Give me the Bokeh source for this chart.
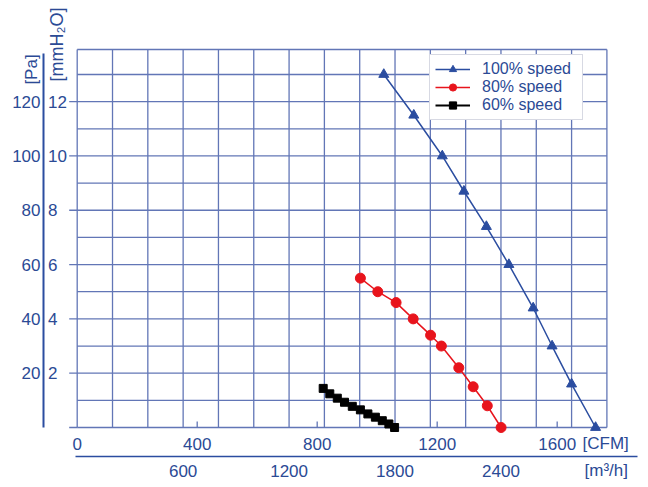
import numpy as np
from bokeh.plotting import figure
from bokeh.models import Range1d, Legend, LegendItem
from bokeh.core.properties import value
from bokeh.embed import file_html
from bokeh.resources import INLINE

# ---------------- data ----------------
M3H_PER_CFM = 1.69901

flow_100 = [1022, 1122, 1217, 1289, 1364, 1439, 1520, 1583, 1648, 1728]
pres_100 = [130, 115, 100, 87, 74, 60, 44, 30, 16, 0]

flow_80 = [944, 1002, 1063, 1120, 1178, 1214, 1272, 1320, 1367, 1413]
pres_80 = [55, 50, 46, 40, 34, 30, 22, 15, 8, 0]

flow_60 = [820, 842, 867, 891, 917, 944, 969, 994, 1017, 1039, 1058]
pres_60 = [14.4, 12.4, 10.8, 9.3, 7.8, 6.5, 5.0, 3.8, 2.5, 1.3, 0]

series_labels = ["100% speed", "80% speed", "60% speed"]

cfm_ticks = [0, 400, 800, 1200, 1600]
m3h_ticks = [600, 1200, 1800, 2400]
pa_ticks = [20, 40, 60, 80, 100, 120]
mmh2o_ticks = [2, 4, 6, 8, 10, 12]
grid_m3h = list(range(0, 3001, 200))
grid_pa = list(range(0, 140, 10))
x_max_m3h = 3000
y_max_pa = 139.2

# ---------------- layout / styles ----------------
W, H = 640, 479
FRAME_L, FRAME_R = 76.7, 606.4      # px of 0 and x_max
FRAME_T, FRAME_B = 49.0, 427.0      # px of y_max and 0

TXT = "#2b4a95"
GRID = "#6276b6"
BLUE = "#2b4da0"
RED = "#e8141c"
BLACK = "#000000"
FONT = "Liberation Sans"
FS = "17px"

x_end = x_max_m3h / M3H_PER_CFM
kx = (FRAME_R - FRAME_L) / x_end          # px per CFM
ky = (FRAME_B - FRAME_T) / y_max_pa       # px per Pa

def X(px):  # canvas px -> CFM
    return (px - FRAME_L) / kx

def Y(py):  # canvas px -> Pa
    return (FRAME_B - py) / ky

p = figure(width=W, height=H,
           x_range=Range1d(X(0), X(W)), y_range=Range1d(Y(H), Y(0)),
           output_backend="svg", toolbar_location=None,
           x_axis_location=None, y_axis_location=None,
           min_border_left=0, min_border_right=0,
           min_border_top=0, min_border_bottom=0)
p.grid.visible = False
p.outline_line_color = None
p.background_fill_color = "white"
p.border_fill_color = "white"

# ---- grid (including frame border) ----
vx = [g / M3H_PER_CFM for g in grid_m3h]
p.segment(x0=vx, y0=[0] * len(vx), x1=vx, y1=[y_max_pa] * len(vx),
          line_color=GRID, line_width=1.3)
hy = grid_pa + [y_max_pa]
p.segment(x0=[0] * len(hy), y0=hy, x1=[x_end] * len(hy), y1=hy,
          line_color=GRID, line_width=1.3)

# ---- left axes ----
mm_pos = [0] + [m * 10 for m in mmh2o_ticks]
p.segment(x0=[X(FRAME_L - 8)] * len(mm_pos), y0=mm_pos, x1=[0] * len(mm_pos), y1=mm_pos,
          line_color=GRID, line_width=1.3)
p.segment(x0=[X(43)], y0=[0], x1=[X(43)], y1=[Y(53)], line_color=BLUE, line_width=2)

p.text(x=[X(40)] * len(pa_ticks), y=pa_ticks, text=[str(v) for v in pa_ticks],
       text_font=value(FONT), text_font_size=value(FS), text_color=TXT,
       text_align="right", text_baseline="middle")
p.text(x=[X(47.5)] * len(mmh2o_ticks), y=[m * 10 for m in mmh2o_ticks],
       text=[str(m) for m in mmh2o_ticks],
       text_font=value(FONT), text_font_size=value(FS), text_color=TXT,
       text_align="left", text_baseline="middle")

# ---- bottom axes ----
tick_x = cfm_ticks[1:]
p.segment(x0=tick_x, y0=[0] * len(tick_x), x1=tick_x, y1=[Y(FRAME_B - 6)] * len(tick_x),
          line_color=GRID, line_width=1.3)
p.text(x=cfm_ticks, y=[Y(443)] * len(cfm_ticks), text=[str(v) for v in cfm_ticks],
       text_font=value(FONT), text_font_size=value(FS), text_color=TXT,
       text_align="center", text_baseline="middle")
p.segment(x0=[X(75)], y0=[Y(456)], x1=[X(637)], y1=[Y(456)], line_color=BLUE, line_width=1.5)
p.text(x=[t / M3H_PER_CFM for t in m3h_ticks], y=[Y(470)] * len(m3h_ticks),
       text=[str(t) for t in m3h_ticks],
       text_font=value(FONT), text_font_size=value(FS), text_color=TXT,
       text_align="center", text_baseline="middle")

# ---- unit labels ----
p.text(x=[X(582), X(584)], y=[Y(443), Y(470)], text=["[CFM]", "[m³/h]"],
       text_font=value(FONT), text_font_size=value(FS), text_color=TXT,
       text_align="left", text_baseline="middle")
p.text(x=[X(31)], y=[Y(69)], text=["[Pa]"], angle=np.pi / 2,
       text_font=value(FONT), text_font_size=value(FS), text_color=TXT,
       text_align="center", text_baseline="middle")
p.text(x=[X(56)], y=[Y(44)], text=["[mmH₂O]"], angle=np.pi / 2,
       text_font=value(FONT), text_font_size=value("18px"), text_color=TXT,
       text_align="center", text_baseline="middle")

# ---- series ----
l1 = p.line(flow_100, pres_100, line_color=BLUE, line_width=1.5)
m1 = p.scatter(flow_100, pres_100, marker="triangle", size=10, fill_color=BLUE, line_color=BLUE)
l2 = p.line(flow_80, pres_80, line_color=RED, line_width=1.5)
m2 = p.scatter(flow_80, pres_80, marker="circle", size=10, fill_color=RED, line_color=RED)
l3 = p.line(flow_60, pres_60, line_color=BLACK, line_width=2)
m3 = p.scatter(flow_60, pres_60, marker="square", size=8, fill_color=BLACK, line_color=BLACK)

legend = Legend(items=[LegendItem(label=series_labels[0], renderers=[l1, m1]),
                       LegendItem(label=series_labels[1], renderers=[l2, m2]),
                       LegendItem(label=series_labels[2], renderers=[l3, m3])],
                location=(429, H - 120))
legend.label_text_font = FONT
legend.label_text_font_size = "16px"
legend.label_text_color = TXT
legend.label_height = 18
legend.label_width = 95
legend.glyph_height = 18
legend.glyph_width = 35
legend.label_standoff = 12
legend.padding = 5
legend.spacing = 0
legend.margin = 0
legend.border_line_color = "#b0b4c8"
legend.border_line_width = 1.5
legend.background_fill_color = "white"
legend.background_fill_alpha = 1
p.add_layout(legend)

open("out.html", "w").write(file_html(p, INLINE))
